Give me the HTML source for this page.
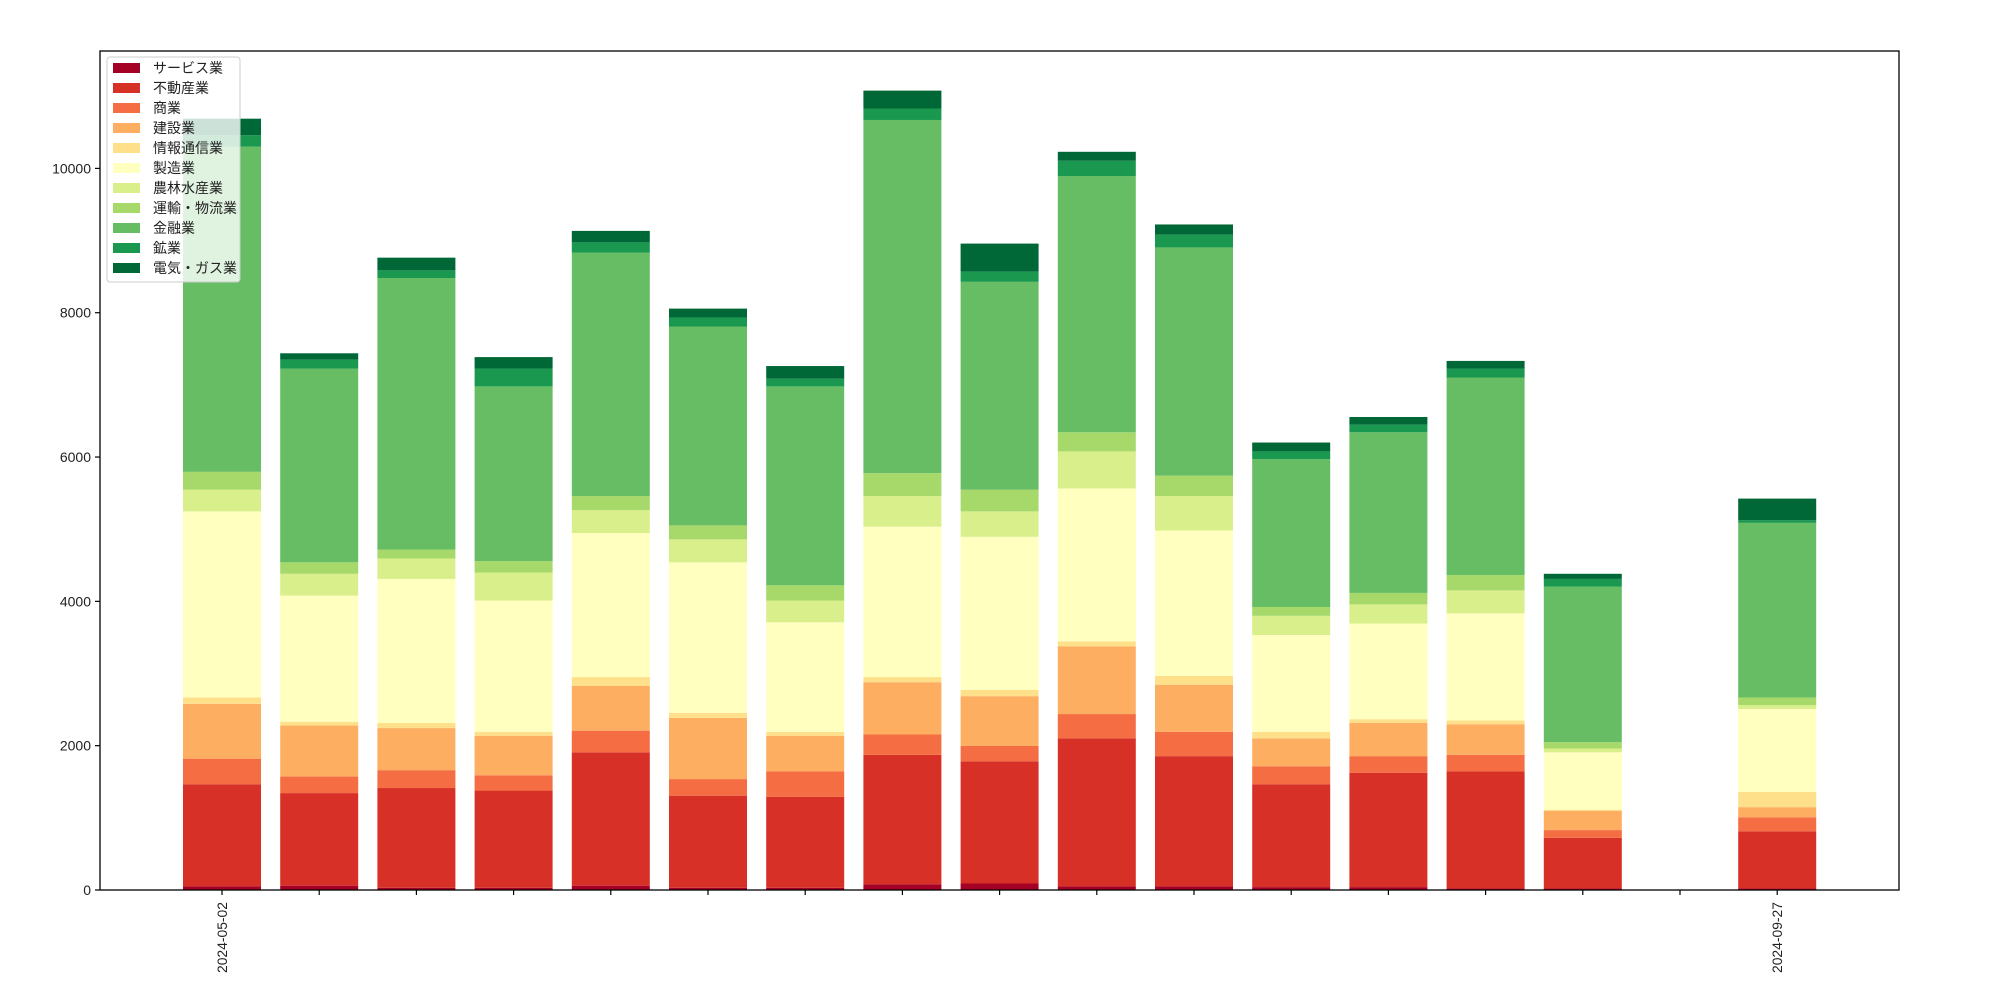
<!DOCTYPE html>
<html><head><meta charset="utf-8"><style>
body{margin:0;background:#fff;}
svg{display:block;font-family:"Liberation Sans","Noto Sans CJK JP",sans-serif;}
</style></head><body>
<svg id="chart" width="2000" height="1000"></svg>
<script>
const categories=["サービス業","不動産業","商業","建設業","情報通信業","製造業","農林水産業","運輸・物流業","金融業","鉱業","電気・ガス業"];
const colors=["#a50026","#d73027","#f46d43","#fdae61","#fee08b","#ffffbf","#d9ef8b","#a6d96a","#66bd63","#1a9850","#006837"];
const xLabels=["2024-05-02","","","","","","","","","","","","","","","","2024-09-27"];
const yTicks=[0,2000,4000,6000,8000,10000];
const s_service=[50,60,30,30,60,30,30,80,90,50,50,40,40,20,20,0,20];
const s_realestate=[1416,1283,1383,1348,1848,1277,1260,1793,1694,2052,1805,1426,1585,1623,704,0,793];
const s_commerce=[354,229,248,212,300,230,353,282,212,336,336,248,230,230,106,0,194];
const s_construction=[760,707,583,548,619,848,495,725,690,937,654,388,459,424,265,0,141];
const s_info=[88,53,70,53,124,71,53,71,88,70,123,89,53,53,18,0,212];
const s_manufacturing=[2579,1749,1997,1820,1996,2085,1519,2084,2120,2120,2014,1343,1326,1484,795,0,1149];
const s_agri=[301,301,283,388,318,318,301,424,353,513,477,265,265,318,53,0,53];
const s_transport=[247,159,123,159,194,194,212,318,301,265,283,123,159,212,88,0,106];
const s_finance=[4505,2685,3764,2421,3375,2756,2756,4894,2880,3551,3163,2050,2226,2738,2156,0,2420];
const s_mining=[159,124,106,247,141,124,106,159,141,212,176,106,106,124,106,0,36];
const s_elec=[230,88,176,159,159,124,176,248,389,124,142,123,106,106,71,0,300];
const series=[s_service,s_realestate,s_commerce,s_construction,s_info,s_manufacturing,s_agri,s_transport,s_finance,s_mining,s_elec];

const NS="http://www.w3.org/2000/svg";
const svg=document.getElementById('chart');
const L=100,R=1899,T=51,B=890;
const yScale=v=>B-v*(B-168.4)/10000;
const xScale=i=>222+97.2*i;
const BW=78;
function mk(tag,attrs,parent){const e=document.createElementNS(NS,tag);for(const k in attrs)e.setAttribute(k,attrs[k]);(parent||svg).appendChild(e);return e;}

const gBars=mk('g',{});


for(let i=0;i<xLabels.length;i++){
  let cum=0;
  for(let s=0;s<series.length;s++){
    const v=series[s][i];
    if(v<=0)continue;
    const y1=yScale(cum),y2=yScale(cum+v);
    const r=mk('rect',{x:xScale(i)-BW/2,y:y2,width:BW,height:y1-y2,fill:colors[s]},gBars);
    
    
    cum+=v;
  }
}
// axes frame
const frame=mk('rect',{x:L,y:T,width:R-L,height:B-T,fill:'none',stroke:'#000','stroke-width':1.3});


// y ticks
for(const t of yTicks){
  const y=yScale(t);
  const tk=mk('line',{x1:L-5,x2:L,y1:y,y2:y,stroke:'#000','stroke-width':1.2});
  
  
  const tx=mk('text',{x:L-9,y:y+5,'text-anchor':'end','font-size':14,fill:'#222'});
  tx.textContent=t;
  
  
}
// x ticks
for(let i=0;i<xLabels.length;i++){
  const x=xScale(i);
  const tk=mk('line',{x1:x,x2:x,y1:B,y2:B+5,stroke:'#000','stroke-width':1.2});
  
  
  if(xLabels[i]){
    const tx=mk('text',{x:0,y:0,'text-anchor':'end','font-size':14,fill:'#222',textLength:71,lengthAdjust:'spacingAndGlyphs',transform:`translate(${x+5},${B+12}) rotate(-90)`});
    tx.textContent=xLabels[i];
    
    
  }
}
// legend
const lg=mk('g',{});


mk('rect',{x:107,y:57,width:133,height:225,rx:3,fill:'#fff','fill-opacity':0.8,stroke:'#ccc','stroke-width':1},lg);
for(let s=0;s<categories.length;s++){
  const y=68+s*20;
  const p=mk('rect',{x:113,y:y-5,width:27,height:10,fill:colors[s]},lg);
  
  
  const t=mk('text',{x:153,y:y+5,'font-size':14,fill:'#222'},lg);
  t.textContent=categories[s];
  
  
}
</script>
</body></html>
